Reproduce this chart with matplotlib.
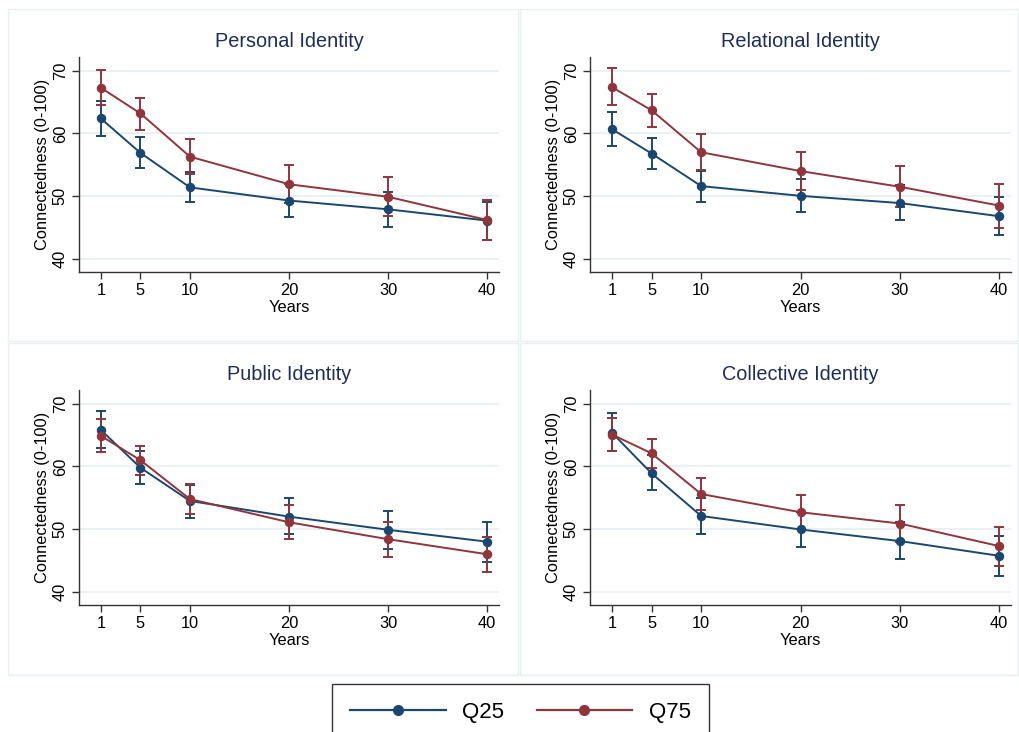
import matplotlib
matplotlib.use("Agg")
import matplotlib.pyplot as plt
from matplotlib.patches import Rectangle
from matplotlib.lines import Line2D

plt.rcParams['font.family'] = ['Liberation Sans', 'DejaVu Sans']

years = [1, 5, 10, 20, 30, 40]
titles = ["Personal Identity", "Relational Identity", "Public Identity", "Collective Identity"]

# Q25 means and CIs
personal_q25 = [62.4, 56.9, 51.4, 49.3, 47.9, 46.1]
personal_q25_lo = [59.6, 54.5, 49.0, 46.6, 45.1, 43.0]
personal_q25_hi = [65.2, 59.4, 53.8, 51.9, 50.7, 49.0]
personal_q75 = [67.3, 63.2, 56.3, 51.9, 49.9, 46.2]
personal_q75_lo = [64.5, 60.6, 53.6, 48.9, 46.9, 43.0]
personal_q75_hi = [70.2, 65.7, 59.1, 54.9, 53.1, 49.4]

relational_q25 = [60.7, 56.8, 51.6, 50.05, 48.9, 46.8]
relational_q25_lo = [58.0, 54.3, 49.1, 47.4, 46.2, 43.8]
relational_q25_hi = [63.5, 59.2, 54.0, 52.7, 51.8, 49.8]
relational_q75 = [67.4, 63.7, 57.0, 54.0, 51.5, 48.5]
relational_q75_lo = [64.5, 61.1, 54.2, 51.0, 48.2, 44.9]
relational_q75_hi = [70.4, 66.3, 59.9, 57.1, 54.8, 52.0]

public_q25 = [65.85, 59.8, 54.5, 52.0, 49.9, 48.0]
public_q25_lo = [63.0, 57.2, 51.8, 49.3, 46.9, 44.8]
public_q25_hi = [68.8, 62.4, 57.1, 54.9, 52.9, 51.2]
public_q75 = [64.9, 61.0, 54.8, 51.1, 48.4, 46.0]
public_q75_lo = [62.3, 58.7, 52.4, 48.4, 45.6, 43.1]
public_q75_hi = [67.5, 63.2, 57.2, 53.8, 51.1, 48.8]

collective_q25 = [65.4, 58.9, 52.1, 49.95, 48.1, 45.75]
collective_q25_lo = [62.4, 56.2, 49.3, 47.1, 45.2, 42.6]
collective_q25_hi = [68.6, 61.8, 54.9, 52.8, 51.1, 48.85]
collective_q75 = [65.1, 62.1, 55.6, 52.7, 50.9, 47.3]
collective_q75_lo = [62.4, 59.7, 53.1, 50.0, 48.0, 44.2]
collective_q75_hi = [67.7, 64.4, 58.2, 55.4, 53.8, 50.3]

panels = [
    (personal_q25, personal_q25_lo, personal_q25_hi, personal_q75, personal_q75_lo, personal_q75_hi),
    (relational_q25, relational_q25_lo, relational_q25_hi, relational_q75, relational_q75_lo, relational_q75_hi),
    (public_q25, public_q25_lo, public_q25_hi, public_q75, public_q75_lo, public_q75_hi),
    (collective_q25, collective_q25_lo, collective_q25_hi, collective_q75, collective_q75_lo, collective_q75_hi),
]

C25 = '#1a476f'
C75 = '#90353b'
W, H = 1020, 732
fig = plt.figure(figsize=(W/100, H/100), dpi=100)

# panel frames (px: x0, y0, x1, y1 from top-left)
frames = [(8, 9, 518, 341), (520, 9, 1018, 341), (8, 343, 518, 675), (520, 343, 1018, 675)]
for (x0, y0, x1, y1) in frames:
    fig.patches.append(Rectangle((x0/W, 1-y1/H), (x1-x0)/W, (y1-y0)/H, transform=fig.transFigure,
                                 facecolor='none', edgecolor='#e8eff0', lw=1.0, zorder=-5))

axes_px = [(79, 57, 499, 272), (590, 57, 1011, 272), (79, 390, 499, 605), (590, 390, 1011, 605)]

for i, ((l, t, r, b), data) in enumerate(zip(axes_px, panels)):
    ax = fig.add_axes([l/W, 1-b/H, (r-l)/W, (b-t)/H])
    ax.patch.set_alpha(0)
    q25, q25lo, q25hi, q75, q75lo, q75hi = data
    for m, lo, hi, c in [(q25, q25lo, q25hi, C25), (q75, q75lo, q75hi, C75)]:
        err = [[mi - li for mi, li in zip(m, lo)], [hi_ - mi for mi, hi_ in zip(m, hi)]]
        ax.errorbar(years, m, yerr=err, color=c, lw=1.4, marker='o', ms=5.8,
                    capsize=3.6, capthick=1.4, elinewidth=1.4, zorder=3)
    ax.set_xlim(-1.2, 41.2)
    ax.set_ylim(37.9, 72.2)
    ax.set_xticks(years)
    ax.set_yticks([40, 50, 60, 70])
    ax.set_yticklabels(['40', '50', '60', '70'], rotation=90, va='center')
    ax.grid(axis='y', color='#e6eef1', lw=1.2)
    ax.set_axisbelow(True)
    for s in ['top', 'right']:
        ax.spines[s].set_visible(False)
    for s in ['left', 'bottom']:
        ax.spines[s].set_color('#333333')
        ax.spines[s].set_linewidth(1.0)
    ax.tick_params(axis='both', labelsize=11.8, length=5, width=1.0, color='#333333', pad=3)
    ax.set_xlabel('Years', fontsize=11.8, labelpad=1.5)
    ax.set_ylabel('Connectedness (0-100)', fontsize=11.8, labelpad=2)
    ax.set_title(titles[i], fontsize=14.3, color='#1e2d5a', pad=7)

handles = [Line2D([], [], color=C25, lw=1.6, marker='o', ms=7),
           Line2D([], [], color=C75, lw=1.6, marker='o', ms=7)]
leg = fig.legend(handles, ['Q25', 'Q75'], loc='upper center', bbox_to_anchor=(520.5/W, 1-684/H),
                 ncol=2, fontsize=16, frameon=True, fancybox=False, handlelength=4.3,
                 handletextpad=0.75, columnspacing=1.45, borderpad=0.8, borderaxespad=0)
leg.get_frame().set_edgecolor('black')
leg.get_frame().set_linewidth(1.0)

fig.savefig('out.png', dpi=100)
